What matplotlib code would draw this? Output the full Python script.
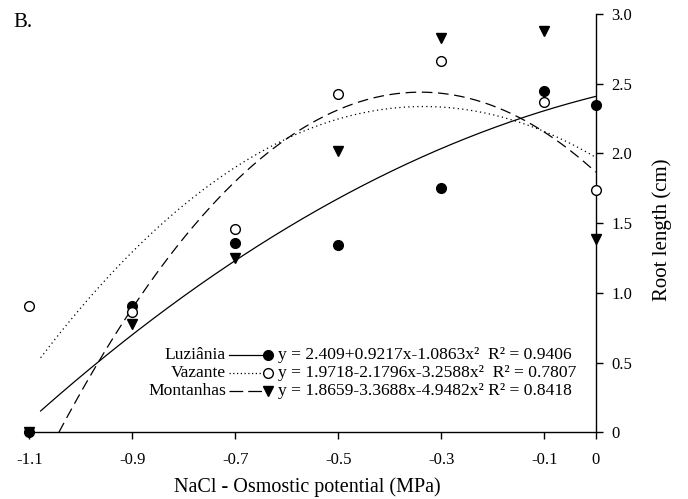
import numpy as np
import matplotlib
matplotlib.use("Agg")
import matplotlib.pyplot as plt
from matplotlib.lines import Line2D

plt.rcParams['font.family'] = ['Liberation Serif', 'DejaVu Serif']
plt.rcParams['axes.unicode_minus'] = False

# ---- data ----
x_levels = [-1.1, -0.9, -0.7, -0.5, -0.3, -0.1, 0.0]
luziania = [0.0, 0.905, 1.36, 1.34, 1.75, 2.45, 2.35]
vazante = [0.905, 0.86, 1.455, 2.425, 2.665, 2.37, 1.74]
montanhas = [0.0, 0.78, 1.25, 2.02, 2.825, 2.875, 1.385]

coef_luz = [2.409, 0.9217, -1.0863]
coef_vaz = [1.9718, -2.1796, -3.2588]
coef_mon = [1.8659, -3.3688, -4.9482]

names = ["Luziânia", "Vazante", "Montanhas"]
equations = [
    "y = 2.409+0.9217x-1.0863x\u00b2  R\u00b2 = 0.9406",
    "y = 1.9718-2.1796x-3.2588x\u00b2  R\u00b2 = 0.7807",
    "y = 1.8659-3.3688x-4.9482x\u00b2 R\u00b2 = 0.8418",
]

xtick_vals = [-1.1, -0.9, -0.7, -0.5, -0.3, -0.1, 0.0]
xtick_labels = ["-1.1", "-0.9", "-0.7", "-0.5", "-0.3", "-0.1", "0"]
ytick_vals = [0, 0.5, 1.0, 1.5, 2.0, 2.5, 3.0]
ytick_labels = ["0", "0.5", "1.0", "1.5", "2.0", "2.5", "3.0"]

# ---- figure ----
fig = plt.figure(figsize=(6.88, 4.99), dpi=100)
ax = fig.add_axes([0.0426, 0.1337, 0.8233, 0.8383])

def poly(c, x):
    x = np.asarray(x)
    return c[0] + c[1] * x + c[2] * x ** 2

xc = np.linspace(-1.078, 0.0, 300)
xm = np.linspace(-1.0425, 0.0, 300)

lw = 0.9
ax.plot(xc, poly(coef_luz, xc), color='black', lw=lw, ls='-')
ax.plot(xc, poly(coef_vaz, xc), color='black', lw=lw, ls=(0, (1, 2.6)))
ax.plot(xm, poly(coef_mon, xm), color='black', lw=lw, ls=(0, (8.5, 4.5)))

ms = 7
ax.plot(x_levels, luziania, 'o', color='black', ms=ms, clip_on=False, zorder=5)
ax.plot(x_levels, vazante, 'o', mfc='white', mec='black', mew=1.0, ms=ms, clip_on=False, zorder=5)
ax.plot(x_levels, montanhas, 'v', color='black', ms=ms + 0.5, clip_on=False, zorder=5)

ax.set_xlim(-1.1, 0.0)
ax.set_ylim(0, 3.0)

for s in ['left', 'top']:
    ax.spines[s].set_visible(False)
for s in ['right', 'bottom']:
    ax.spines[s].set_linewidth(1.0)

ax.yaxis.tick_right()
ax.yaxis.set_label_position('right')
ax.set_xticks(xtick_vals)
ax.set_xticklabels(xtick_labels)
ax.set_yticks(ytick_vals)
ax.set_yticklabels(ytick_labels)
ax.tick_params(axis='both', direction='out', length=5, width=1.0, labelsize=12, pad=6)
ax.tick_params(axis='x', pad=9)

ax.set_xlabel("NaCl - Osmostic potential (MPa)", fontsize=14.5, va='center')
ax.xaxis.set_label_coords(0.491, -0.130)
ax.set_ylabel("Root length (cm)", fontsize=15)
ax.yaxis.label.set_va('center')
ax.yaxis.set_label_coords(1.1166, 0.485)

fig.text(0.019, 0.945, "B.", fontsize=15, ha='left', va='baseline')

# ---- legend (custom rows) ----
styles = [
    dict(ls='-', marker='o', mfc='black', mec='black'),
    dict(ls=(0, (1, 2)), marker='o', mfc='white', mec='black'),
    dict(ls=(0, (11, 4)), marker='v', mfc='black', mec='black'),
]
row_y = [0.1848, 0.1418, 0.0975]
x_name = 0.347
x_l0, x_l1 = 0.352, 0.413
x_mark = 0.4214
x_eq = 0.4395
for name, eq, st, yy in zip(names, equations, styles, row_y):
    ax.text(x_name, yy, name, transform=ax.transAxes, ha='right', va='center', fontsize=12.6)
    ax.add_line(Line2D([x_l0, x_l1], [yy, yy], transform=ax.transAxes, color='black',
                       lw=lw, ls=st['ls']))
    ax.add_line(Line2D([x_mark], [yy], transform=ax.transAxes, marker=st['marker'],
                       mfc=st['mfc'], mec=st['mec'], ms=7 if st['marker'] == 'o' else 7.5,
                       ls='none', mew=1.0))
    ax.text(x_eq, yy, eq, transform=ax.transAxes, ha='left', va='center', fontsize=12.6)

fig.savefig("out.png", dpi=100)
